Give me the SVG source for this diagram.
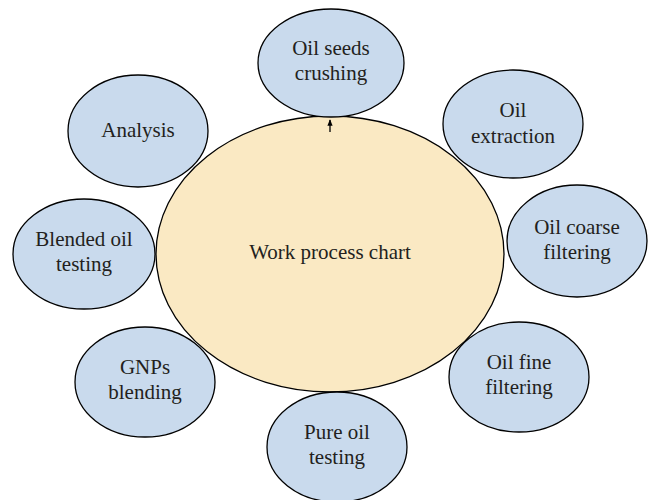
<svg xmlns="http://www.w3.org/2000/svg" width="648" height="500" viewBox="0 0 648 500">
<defs>
<style>
.n{fill:#c9daed;stroke:#000;stroke-width:1.3}
.c{fill:#fae9c3;stroke:#000;stroke-width:1.3}
text{font-family:"Liberation Serif","Times New Roman",serif;font-size:21px;fill:#231f20;text-anchor:middle}
</style>
<marker id="ah" viewBox="0 0 10 10" refX="9" refY="5" markerWidth="5" markerHeight="5" orient="auto">
<path d="M0,1 L10,5 L0,9 Z" fill="#000"/>
</marker>
</defs>
<rect width="648" height="500" fill="#fff"/>
<g id="center">
<ellipse class="c" cx="330" cy="254" rx="174" ry="138"/>
<text x="330" y="259">Work process chart</text>
</g>
<g id="crushing">
<ellipse class="n" cx="331" cy="63" rx="73" ry="54"/>
<text x="331" y="55">Oil seeds</text>
<text x="331" y="80">crushing</text>
</g>
<g id="extraction">
<ellipse class="n" cx="513" cy="124" rx="70" ry="54"/>
<text x="513" y="117">Oil</text>
<text x="513" y="143">extraction</text>
</g>
<g id="coarse">
<ellipse class="n" cx="577" cy="241" rx="70" ry="56"/>
<text x="577" y="234">Oil coarse</text>
<text x="577" y="259">filtering</text>
</g>
<g id="fine">
<ellipse class="n" cx="519" cy="377" rx="70" ry="55"/>
<text x="519" y="369">Oil fine</text>
<text x="519" y="394">filtering</text>
</g>
<g id="pure">
<ellipse class="n" cx="337" cy="447" rx="70" ry="55"/>
<text x="337" y="439">Pure oil</text>
<text x="337" y="464">testing</text>
</g>
<g id="gnps">
<ellipse class="n" cx="145" cy="382" rx="70" ry="55"/>
<text x="145" y="374">GNPs</text>
<text x="145" y="399">blending</text>
</g>
<g id="blended">
<ellipse class="n" cx="84" cy="254" rx="71" ry="55"/>
<text x="84" y="246">Blended oil</text>
<text x="84" y="271">testing</text>
</g>
<g id="analysis">
<ellipse class="n" cx="138" cy="131" rx="70" ry="56"/>
<text x="138" y="137">Analysis</text>
</g>
<g id="connectors">
<line x1="330" y1="132" x2="330" y2="120" stroke="#000" stroke-width="1.3" marker-end="url(#ah)"/>
</g>
</svg>
